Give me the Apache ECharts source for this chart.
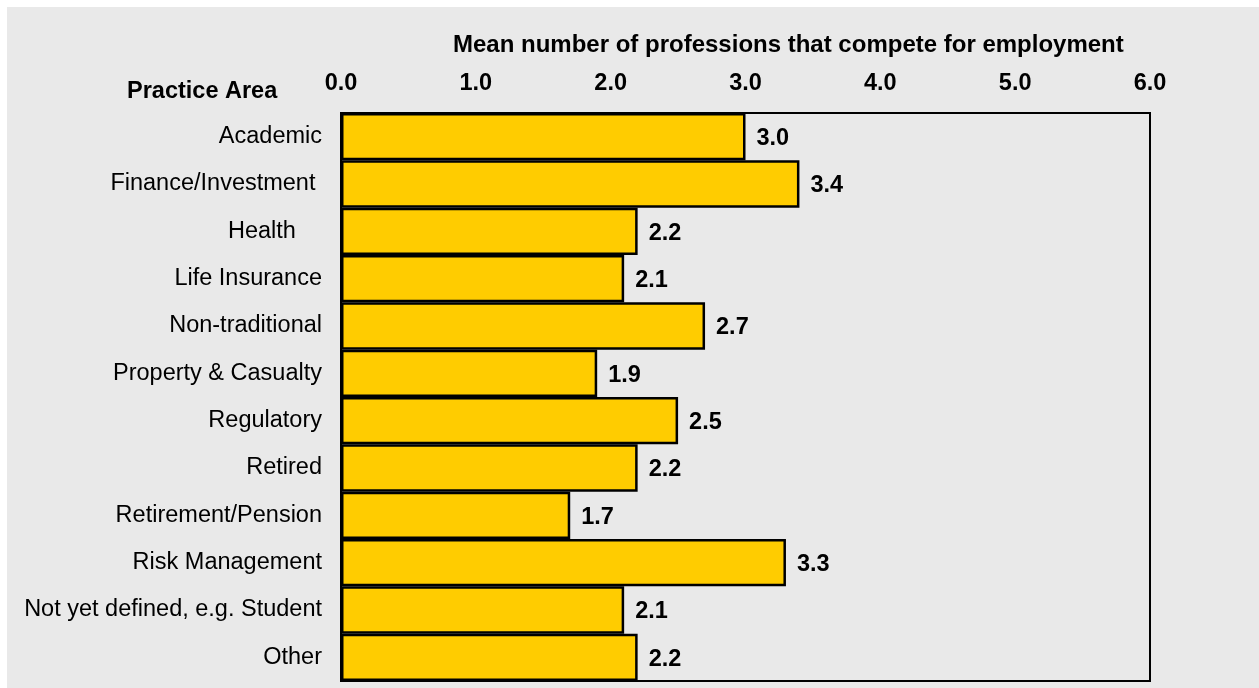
<!DOCTYPE html>
<html>
<head>
<meta charset="utf-8">
<script src="https://cdn.jsdelivr.net/npm/echarts@6/dist/echarts.min.js"></script>
<style>
  html, body { margin: 0; padding: 0; background: #ffffff; }
  #chart { width: 1259px; height: 688px; }
</style>
</head>
<body>
<div id="chart"></div>
<script>
// Practice areas (top to bottom) and mean number of competing professions
const practiceAreas = [
  'Academic',
  'Finance/Investment ',
  'Health    ',
  'Life Insurance',
  'Non-traditional',
  'Property & Casualty',
  'Regulatory',
  'Retired',
  'Retirement/Pension',
  'Risk Management',
  'Not yet defined, e.g. Student',
  'Other'
];
const meanProfessions = [3.0, 3.4, 2.2, 2.1, 2.7, 1.9, 2.5, 2.2, 1.7, 3.3, 2.1, 2.2];

const axisTitle = 'Mean number of professions that compete for employment';
const categoryHeader = 'Practice Area';

const FONT = '"Liberation Sans", Arial, Helvetica, sans-serif';

const chart = echarts.init(document.getElementById('chart'), null, { renderer: 'canvas' });

chart.setOption({
  animation: false,
  backgroundColor: '#ffffff',
  graphic: [
    {
      type: 'rect',
      z: -10,
      silent: true,
      shape: { x: 7, y: 7, width: 1252, height: 681 },
      style: { fill: '#e9e9e9' }
    },
    {
      type: 'text',
      left: 453,
      top: 33,
      style: {
        text: axisTitle,
        font: 'bold 24px ' + FONT,
        fill: '#000000'
      }
    },
    {
      type: 'text',
      left: 127,
      top: 80,
      style: {
        text: categoryHeader,
        font: 'bold 23.5px ' + FONT,
        fill: '#000000'
      }
    }
  ],
  grid: {
    left: 341,
    right: 109,
    top: 113,
    bottom: 7,
    show: true,
    backgroundColor: 'transparent',
    borderColor: '#000000',
    borderWidth: 2
  },
  xAxis: {
    type: 'value',
    position: 'top',
    min: 0,
    max: 6,
    interval: 1,
    axisLine: { show: false },
    axisTick: { show: false },
    splitLine: { show: false },
    axisLabel: {
      margin: 17,
      color: '#000000',
      fontFamily: FONT,
      fontWeight: 'bold',
      fontSize: 23.5,
      formatter: v => v.toFixed(1)
    }
  },
  yAxis: {
    type: 'category',
    inverse: true,
    data: practiceAreas,
    axisLine: { show: false },
    axisTick: { show: false },
    splitLine: { show: false },
    axisLabel: {
      margin: 19,
      color: '#000000',
      fontFamily: FONT,
      fontSize: 23.5,
      padding: [4, 0, 0, 0]
    }
  },
  series: [
    {
      type: 'bar',
      data: meanProfessions,
      barWidth: '100%',
      barCategoryGap: 0,
      itemStyle: {
        color: '#ffcc00',
        borderColor: '#000000',
        borderWidth: 2.5
      },
      label: {
        show: true,
        position: 'right',
        distance: 11,
        offset: [0, 2],
        color: '#000000',
        fontFamily: FONT,
        fontWeight: 'bold',
        fontSize: 23.5,
        formatter: p => p.value.toFixed(1)
      }
    }
  ]
});
</script>
</body>
</html>
